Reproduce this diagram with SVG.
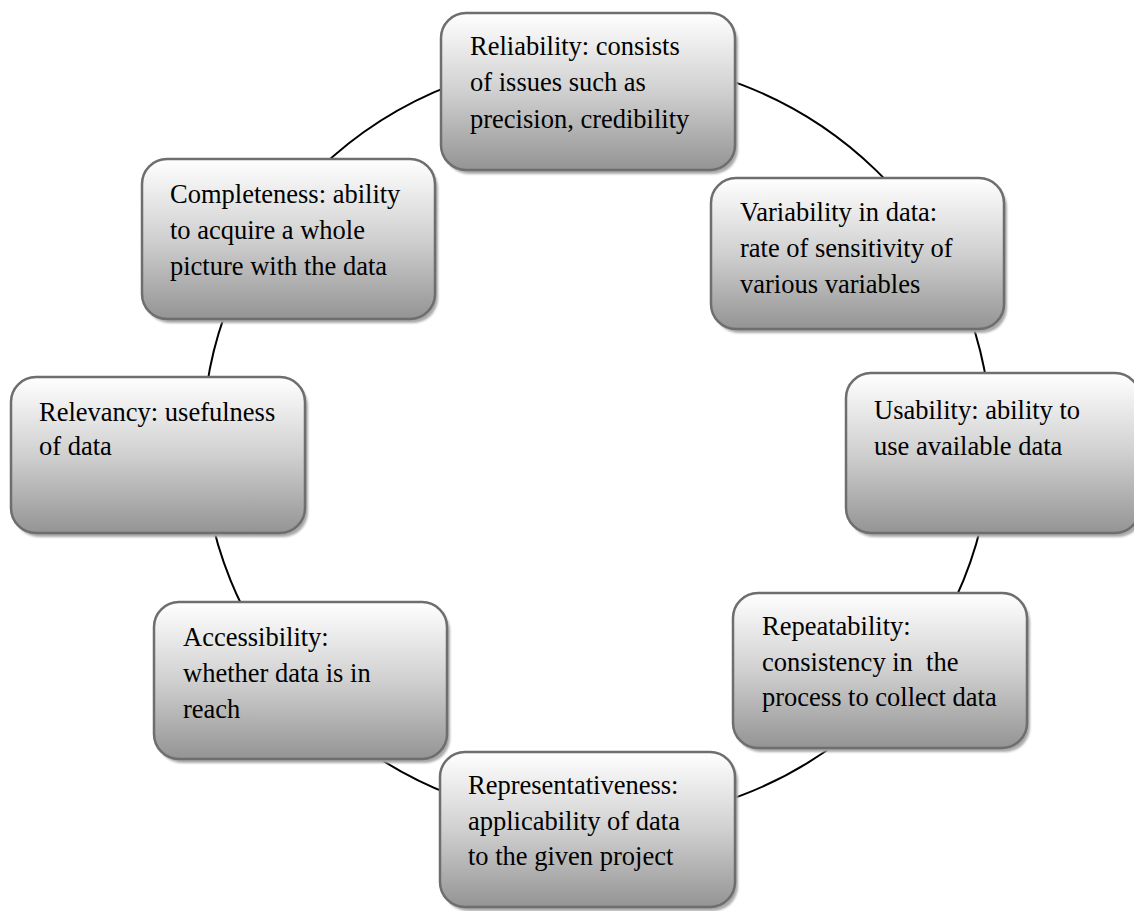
<svg xmlns="http://www.w3.org/2000/svg" width="1134" height="911" viewBox="0 0 1134 911">
  <defs>
    <linearGradient id="boxFill" x1="0" y1="0" x2="0" y2="1">
      <stop offset="0" stop-color="#ffffff"/>
      <stop offset="0.5" stop-color="#d0d0d0"/>
      <stop offset="1" stop-color="#949494"/>
    </linearGradient>
    <filter id="soft" x="-5%" y="-5%" width="110%" height="110%">
      <feGaussianBlur stdDeviation="1"/>
    </filter>
  </defs>
  <style>
    .shadow { fill: #a9a9a9; filter: url(#soft); }
    .box { fill: url(#boxFill); stroke: #6e6e6e; stroke-width: 2.5; }
    .label { font-size: 26.5px; fill: #000000; }
    .ring { fill: none; stroke: #000000; stroke-width: 2; }
  </style>
  <rect width="1134" height="911" fill="#ffffff"/>

  <!-- ring linking the quality dimensions -->
  <g id="connectors">
    <ellipse class="ring" cx="597" cy="440" rx="394" ry="382"/>
  </g>

  <g font-family="Liberation Serif, DejaVu Serif, Times New Roman, serif">
  <g id="reliability">
    <rect class="shadow" x="444" y="17" width="294" height="157" rx="25"/>
    <rect class="box" x="441" y="13" width="294" height="157" rx="25"/>
    <text class="label" x="470" y="55">Reliability: consists</text>
    <text class="label" x="470" y="91">of issues such as</text>
    <text class="label" x="470" y="128">precision, credibility</text>
  </g>

  <g id="completeness">
    <rect class="shadow" x="145" y="163" width="293" height="160" rx="25"/>
    <rect class="box" x="142" y="159" width="293" height="160" rx="25"/>
    <text class="label" x="170" y="203">Completeness: ability</text>
    <text class="label" x="170" y="239">to acquire a whole</text>
    <text class="label" x="170" y="275">picture with the data</text>
  </g>

  <g id="variability">
    <rect class="shadow" x="714" y="182" width="293" height="151" rx="25"/>
    <rect class="box" x="711" y="178" width="293" height="151" rx="25"/>
    <text class="label" x="740" y="221">Variability in data:</text>
    <text class="label" x="740" y="257">rate of sensitivity of</text>
    <text class="label" x="740" y="293">various variables</text>
  </g>

  <g id="relevancy">
    <rect class="shadow" x="14" y="381" width="294" height="156" rx="25"/>
    <rect class="box" x="11" y="377" width="294" height="156" rx="25"/>
    <text class="label" x="39" y="421">Relevancy: usefulness</text>
    <text class="label" x="39" y="455">of data</text>
  </g>

  <g id="usability">
    <rect class="shadow" x="849" y="377" width="294" height="160" rx="25"/>
    <rect class="box" x="846" y="373" width="294" height="160" rx="25"/>
    <text class="label" x="874" y="419">Usability: ability to</text>
    <text class="label" x="874" y="455">use available data</text>
  </g>

  <g id="accessibility">
    <rect class="shadow" x="157" y="606" width="293" height="157" rx="25"/>
    <rect class="box" x="154" y="602" width="293" height="157" rx="25"/>
    <text class="label" x="183" y="646">Accessibility:</text>
    <text class="label" x="183" y="682">whether data is in</text>
    <text class="label" x="183" y="718">reach</text>
  </g>

  <g id="repeatability">
    <rect class="shadow" x="736" y="597" width="294" height="155" rx="25"/>
    <rect class="box" x="733" y="593" width="294" height="155" rx="25"/>
    <text class="label" x="762" y="635">Repeatability:</text>
    <text class="label" x="762" y="671" xml:space="preserve">consistency in  the</text>
    <text class="label" x="762" y="706">process to collect data</text>
  </g>

  <g id="representativeness">
    <rect class="shadow" x="443" y="756" width="295" height="155" rx="25"/>
    <rect class="box" x="440" y="752" width="295" height="155" rx="25"/>
    <text class="label" x="468" y="794">Representativeness:</text>
    <text class="label" x="468" y="830">applicability of data</text>
    <text class="label" x="468" y="865">to the given project</text>
  </g>
  </g>
</svg>
